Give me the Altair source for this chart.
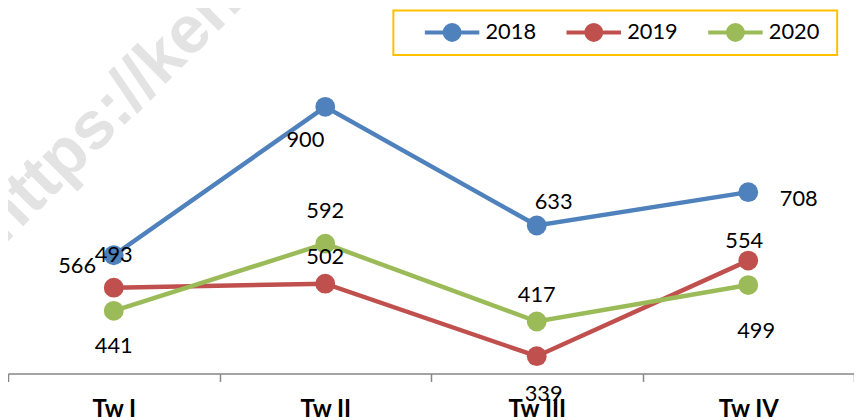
import altair as alt
import pandas as pd

# ---- data ----
quarters = ["Tw I", "Tw II", "Tw III", "Tw IV"]
years = ["2018", "2019", "2020"]
values_2018 = [566, 900, 633, 708]
values_2019 = [493, 502, 339, 554]
values_2020 = [441, 592, 417, 499]
colors = ["#4F81BD", "#C0504D", "#9BBB59"]

# data-label placement keywords (like Excel's label position option)
label_pos_2018 = ["left", "below_left", "above_right", "right"]
label_pos_2019 = ["above_far", "above", "below_right", "above_near"]
label_pos_2020 = ["below", "above_far", "above", "below_far"]

rows = []
for yr, vals, poss in zip(years,
                          [values_2018, values_2019, values_2020],
                          [label_pos_2018, label_pos_2019, label_pos_2020]):
    for q, v, p in zip(quarters, vals, poss):
        rows.append({"quarter": q, "year": yr, "value": v, "pos": p})
df = pd.DataFrame(rows)

# label nudges (pixels) for each placement keyword
nudges = {
    "above": (0, -28),
    "above_near": (-4, -21),
    "above_far": (0, -34),
    "above_right": (17, -25),
    "below": (0, 35),
    "below_right": (7, 37),
    "below_far": (8, 45),
    "below_left": (-20, 33),
    "right": (51, 6),
    "left": (-37, 10),
}

FONT = "Lato"

# legend symbol: line with a dot, drawn to the right of the symbol anchor
legend_path = ("M-0.8,0M1.46,0L12.46,0"
               "M5.46,0A1.5,1.5,0,1,1,8.46,0A1.5,1.5,0,1,1,5.46,0Z")

x_enc = alt.X(
    "quarter:N", sort=quarters,
    scale=alt.Scale(type="band", paddingInner=0, paddingOuter=0),
    axis=alt.Axis(title=None, labelAngle=0, tickBand="extent",
                  domainColor="#868686", domainWidth=1.5,
                  tickColor="#868686", tickWidth=1.5, tickSize=8,
                  labelFont=FONT, labelFontWeight="bold", labelFontSize=24,
                  labelColor="black", labelPadding=16, grid=False),
)
y_enc = alt.Y("value:Q", scale=alt.Scale(domain=[300, 1118], nice=False, zero=False),
              axis=None)
color_enc = alt.Color(
    "year:N", scale=alt.Scale(domain=years, range=colors),
    legend=alt.Legend(title=None, orient="none", legendX=391, legendY=0,
                      direction="horizontal", symbolType=legend_path,
                      symbolSize=100, symbolStrokeWidth=4,
                      labelFont=FONT, labelFontSize=22, labelColor="black",
                      labelOffset=57.5, columnPadding=11, padding=11.5,
                      ),
)

base = alt.Chart(df)

watermark = alt.Chart(pd.DataFrame({"t": ["https://ken"]})).mark_text(
    angle=315, align="left", baseline="alphabetic", font="Liberation Sans",
    fontWeight="bold", fontSize=68, color="#e3e3e3",
).encode(text="t:N", x=alt.value(-4.5), y=alt.value(238))

# gold frame around the legend
legend_frame = alt.Chart(pd.DataFrame({"f": [0]})).mark_rect(
    fill="white", fillOpacity=0, stroke="#FFC000", strokeWidth=2,
).encode(x=alt.value(389), x2=alt.value(837), y=alt.value(0.5), y2=alt.value(45.5))

lines = base.mark_line(strokeWidth=4.5).encode(x=x_enc, y=y_enc, color=color_enc)
points = base.mark_point(filled=True, size=400, opacity=1).encode(
    x=x_enc, y=y_enc,
    color=alt.Color("year:N", scale=alt.Scale(domain=years, range=colors), legend=None))

label_layers = []
for key, (dx, dy) in nudges.items():
    label_layers.append(
        base.transform_filter(alt.datum.pos == key).mark_text(
            font=FONT, fontSize=22, color="black", dx=dx, dy=dy + 1,
            align="center", baseline="middle",
        ).encode(x=x_enc, y=y_enc, text="value:Q")
    )

chart = alt.layer(watermark, legend_frame, lines, points, *label_layers).properties(
    width=854, height=367,
    autosize=alt.AutoSizeParams(type="none"),
    padding={"left": 0, "top": 0, "right": 0, "bottom": 45},
).configure_view(stroke=None)

chart.save("out.html", embed_options={"renderer": "svg", "actions": False})
